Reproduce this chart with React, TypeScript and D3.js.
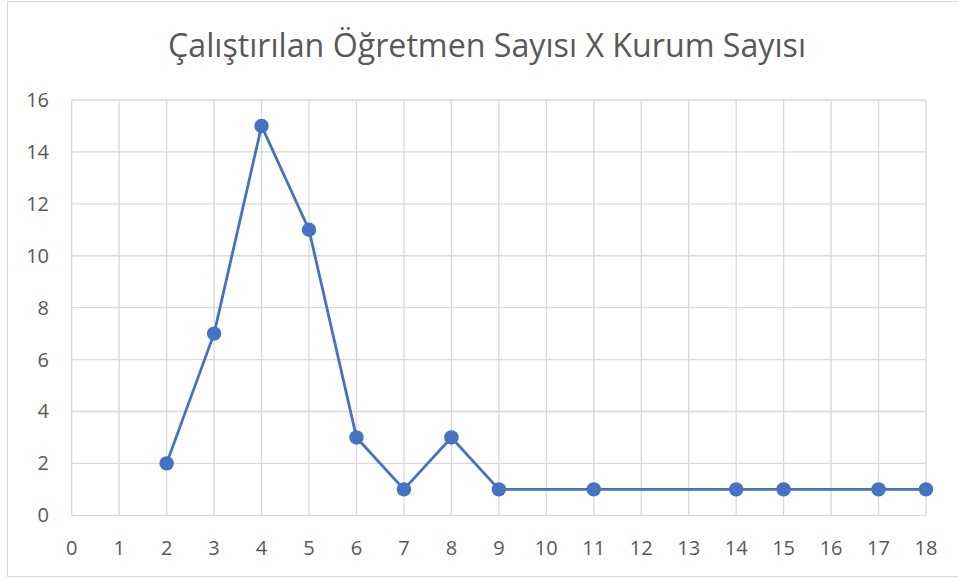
import React from "react";
import * as d3 from "d3";

const TITLE = "Çalıştırılan Öğretmen Sayısı X Kurum Sayısı";
const xValues = [2, 3, 4, 5, 6, 7, 8, 9, 11, 14, 15, 17, 18];
const yValues = [2, 7, 15, 11, 3, 1, 3, 1, 1, 1, 1, 1, 1];
const xTicks = d3.range(0, 19);
const yTicks = [0, 2, 4, 6, 8, 10, 12, 14, 16];

const W = 958;
const H = 578;
const FONT = "'Open Sans', 'Noto Sans', sans-serif";

export default function App() {
  const x = d3.scaleLinear().domain([0, 18]).range([71.7, 926]);
  const y = d3.scaleLinear().domain([0, 16]).range([515.3, 100]);
  const pts = xValues.map((v, i) => [v, yValues[i]] as [number, number]);
  const line = d3
    .line<[number, number]>()
    .x((d) => x(d[0]))
    .y((d) => y(d[1]));

  return (
    <svg
      width={W}
      height={H}
      style={{ position: "absolute", left: 0, top: 0, background: "#fff" }}
      fontFamily={FONT}
    >
      <rect x={7.5} y={1.5} width={970} height={575} fill="#fff" stroke="#d9d9d9" strokeWidth={1} />
      <text
        x={487}
        y={57}
        textAnchor="middle"
        fontSize={32}
        fill="#595959"
        textLength={638}
        lengthAdjust="spacingAndGlyphs"
      >
        {TITLE}
      </text>
      {xTicks.map((t) => (
        <line key={"gx" + t} x1={x(t)} x2={x(t)} y1={y(16)} y2={y(0)} stroke="#d9d9d9" strokeWidth={1.3} />
      ))}
      {yTicks.map((t) => (
        <line key={"gy" + t} x1={x(0)} x2={x(18)} y1={y(t)} y2={y(t)} stroke="#d9d9d9" strokeWidth={1.3} />
      ))}
      {yTicks.map((t) => (
        <text key={"ly" + t} x={49} y={y(t) + 7} textAnchor="end" fontSize={20} fill="#595959">
          {t}
        </text>
      ))}
      {xTicks.map((t) => (
        <text key={"lx" + t} x={x(t)} y={554.5} textAnchor="middle" fontSize={20} fill="#595959">
          {t}
        </text>
      ))}
      <path d={line(pts) || ""} fill="none" stroke="#4472C4" strokeWidth={2.8} strokeLinejoin="round" />
      {pts.map((p, i) => (
        <circle key={"p" + i} cx={x(p[0])} cy={y(p[1])} r={7.2} fill="#4472C4" />
      ))}
    </svg>
  );
}
